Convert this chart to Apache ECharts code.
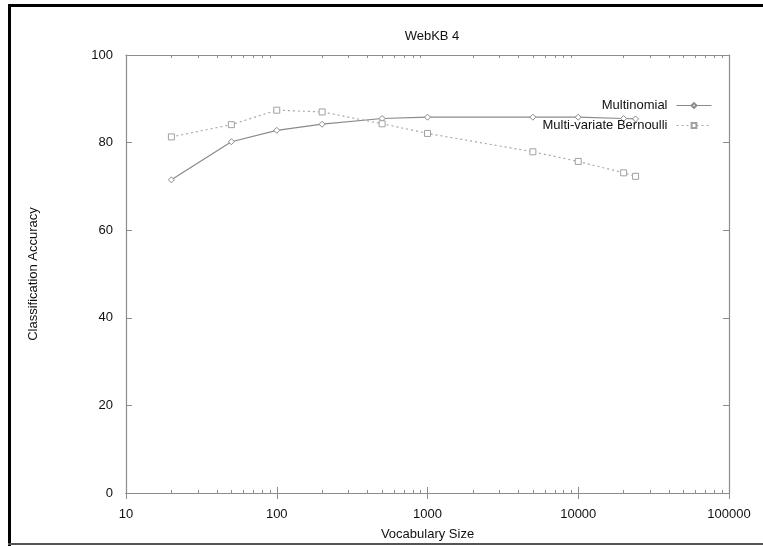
<!DOCTYPE html>
<html>
<head>
<meta charset="utf-8">
<script src="https://cdn.jsdelivr.net/npm/echarts@6/dist/echarts.min.js"></script>
<style>
  html, body { margin: 0; padding: 0; background: #fff; }
  #chart { width: 763px; height: 546px; }
</style>
</head>
<body>
<div id="chart"></div>
<script>
const vocabSizes = [20, 50, 100, 200, 500, 1000, 5000, 10000, 20000, 24000]
const multinomial = [71.5, 80.2, 82.8, 84.2, 85.5, 85.8, 85.8, 85.8, 85.5, 85.4]
const bernoulli = [81.3, 84.1, 87.4, 87.0, 84.3, 82.1, 77.9, 75.7, 73.1, 72.3]
const minorTicks = [20, 30, 40, 50, 60, 70, 80, 90, 200, 300, 400, 500, 600, 700, 800, 900,
  2000, 3000, 4000, 5000, 6000, 7000, 8000, 9000, 20000, 30000, 40000, 50000, 60000, 70000, 80000, 90000]

const font = 'Liberation Sans, Arial, sans-serif'
const axisColor = '#8c8c8c'

const chart = echarts.init(document.getElementById('chart'))

const logAxis = (extra) => Object.assign({
  type: 'log',
  logBase: 10,
  min: 10,
  max: 100000,
  axisLine: { show: true, lineStyle: { color: axisColor, width: 1.2 } },
  axisTick: { inside: true, length: 6, lineStyle: { color: axisColor } },
  axisLabel: { show: false },
  splitLine: { show: false }
}, extra)

chart.setOption({
  animation: false,
  backgroundColor: '#fff',
  title: {
    text: 'WebKB 4',
    left: 427,
    top: 25,
    textAlign: 'center',
    textStyle: { fontFamily: font, fontSize: 13, fontWeight: 'normal', color: '#111' }
  },
  legend: {
    orient: 'vertical',
    right: 51,
    top: 99,
    padding: 0,
    align: 'right',
    itemWidth: 35,
    itemHeight: 6,
    itemGap: 7,
    lineStyle: { width: 1 },
    textStyle: { fontFamily: font, fontSize: 13, color: '#111', padding: [0, 4, 0, 0] },
    data: ['Multinomial', 'Multi-variate Bernoulli']
  },
  grid: { left: 126, right: 34, top: 55, bottom: 49 },
  xAxis: [
    logAxis({
      position: 'bottom',
      name: 'Vocabulary Size',
      nameLocation: 'middle',
      nameGap: 35,
      nameTextStyle: { fontFamily: font, fontSize: 13, color: '#111' },
      axisLabel: { show: true, margin: 15, fontFamily: font, fontSize: 13, color: '#111', formatter: (v) => String(v) }
    }),
    logAxis({ position: 'top' }),
    logAxis({ position: 'bottom', axisTick: { inside: true, length: 3, customValues: minorTicks, lineStyle: { color: axisColor } } }),
    logAxis({ position: 'top', axisTick: { inside: true, length: 3, customValues: minorTicks, lineStyle: { color: axisColor } } })
  ],
  yAxis: [
    {
      type: 'value',
      min: 0,
      max: 100,
      interval: 20,
      position: 'left',
      name: 'Classification Accuracy',
      nameLocation: 'middle',
      nameGap: 86,
      nameTextStyle: { fontFamily: font, fontSize: 13, color: '#111' },
      axisLine: { show: true, lineStyle: { color: axisColor, width: 1.2 } },
      axisTick: { inside: true, length: 6, lineStyle: { color: axisColor } },
      axisLabel: { margin: 13, fontFamily: font, fontSize: 13, color: '#111' },
      splitLine: { show: false }
    },
    {
      type: 'value',
      min: 0,
      max: 100,
      interval: 20,
      position: 'right',
      axisLine: { show: true, lineStyle: { color: axisColor, width: 1.2 } },
      axisTick: { inside: true, length: 6, lineStyle: { color: axisColor } },
      axisLabel: { show: false },
      splitLine: { show: false }
    }
  ],
  series: [
    {
      name: 'Multinomial',
      type: 'line',
      data: vocabSizes.map((v, i) => [v, multinomial[i]]),
      symbol: 'diamond',
      symbolSize: 6,
      lineStyle: { color: '#8a8a8a', width: 1.2, type: 'solid' },
      itemStyle: { color: '#fff', borderColor: '#8a8a8a', borderWidth: 1 }
    },
    {
      name: 'Multi-variate Bernoulli',
      type: 'line',
      data: vocabSizes.map((v, i) => [v, bernoulli[i]]),
      symbol: 'rect',
      symbolSize: 6,
      lineStyle: { color: '#a8a8a8', width: 1.2, type: [2, 3] },
      itemStyle: { color: '#fff', borderColor: '#a0a0a0', borderWidth: 1 }
    }
  ],
  graphic: [
    { type: 'rect', shape: { x: 8, y: 4, width: 755, height: 3 }, style: { fill: '#000' } },
    { type: 'rect', shape: { x: 8, y: 4, width: 3, height: 542 }, style: { fill: '#000' } },
    { type: 'rect', shape: { x: 8, y: 543, width: 755, height: 2 }, style: { fill: '#555' } }
  ]
})
</script>
</body>
</html>
